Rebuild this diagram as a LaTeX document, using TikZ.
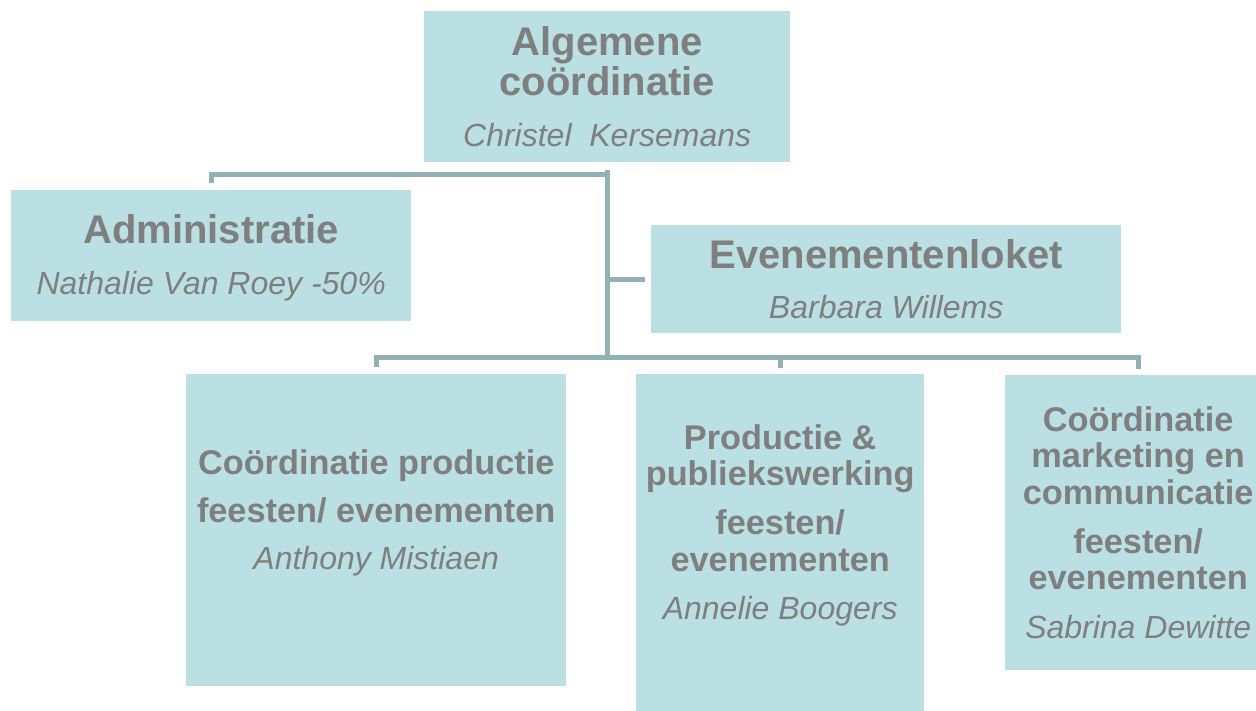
\documentclass[tikz,border=0pt]{standalone}
\usepackage{fontspec}
\setmainfont{Liberation Sans}
\definecolor{boxfill}{HTML}{BAE0E3}
\definecolor{txtgray}{HTML}{7F7F7F}
\definecolor{linkgray}{HTML}{93B1B5}

\begin{document}
\begin{tikzpicture}[x=1pt, y=1pt,
    box/.style   = {fill=boxfill, anchor=north west, inner sep=0pt},
    link/.style  = {draw=linkgray, line width=5pt},
    head/.style  = {text=txtgray, align=center, font=\bfseries\fontsize{40}{40}\selectfont},
    sub/.style   = {text=txtgray, align=center, font=\bfseries\fontsize{34.3}{36.5}\selectfont}]
  \newcommand{\who}[1]{{\mdseries\itshape\fontsize{32}{32}\selectfont #1}}
  \useasboundingbox (0,0) rectangle (1256,-711);

  % boxes
  \node[box, minimum width=366, minimum height=151] (top) at (424,-11)  {};
  \node[box, minimum width=400, minimum height=131] (adm) at (11,-190)  {};
  \node[box, minimum width=470, minimum height=108] (eve) at (651,-225) {};
  \node[box, minimum width=380, minimum height=312] (coa) at (186,-374) {};
  \node[box, minimum width=288, minimum height=345] (cob) at (636,-374) {};
  \node[box, minimum width=266, minimum height=295] (coc) at (1005,-375) {};

  % texts
  \node[head] (toptxt) at (top.center) {Algemene\\coördinatie\\[11pt]\who{Christel\ \ Kersemans}};
  \node[head, yshift=-2] (admtxt) at (adm.center) {Administratie\\[11pt]\who{Nathalie Van Roey -50\%}};
  \node[head] (evetxt) at (eve.center) {Evenementenloket\\[10pt]\who{Barbara Willems}};
  \node[sub, yshift=17] (coatxt) at (coa.center)
    {Coördinatie productie\\[11.5pt]feesten/ evenementen\\[10.5pt]\who{Anthony Mistiaen}};
  \node[sub, yshift=21.5] (cobtxt) at (cob.center)
    {Productie \&\\publiekswerking\\[12.5pt]feesten/\\evenementen\\[11.5pt]\who{Annelie Boogers}};
  \node[sub, yshift=0] (coctxt) at (coc.center)
    {Coördinatie\\marketing en\\communicatie\\[12.5pt]feesten/\\evenementen\\[12.5pt]\who{Sabrina Dewitte}};

  % connectors
  \coordinate (bus) at (606,-358);
  \draw[link] ([yshift=-8]top.south) -- (top.south |- bus);
  \draw[link] ([yshift=7]adm.north) |- ([yshift=-12]top.south);
  \draw[link] (top.south |- eve.west) -- ([xshift=-6]eve.west);
  \draw[link] ([yshift=7]coa.north) |- (coc.north |- bus) -- ([yshift=6]coc.north);
  \draw[link] ([yshift=6]cob.north) -- (cob.north |- bus);
\end{tikzpicture}
\end{document}
